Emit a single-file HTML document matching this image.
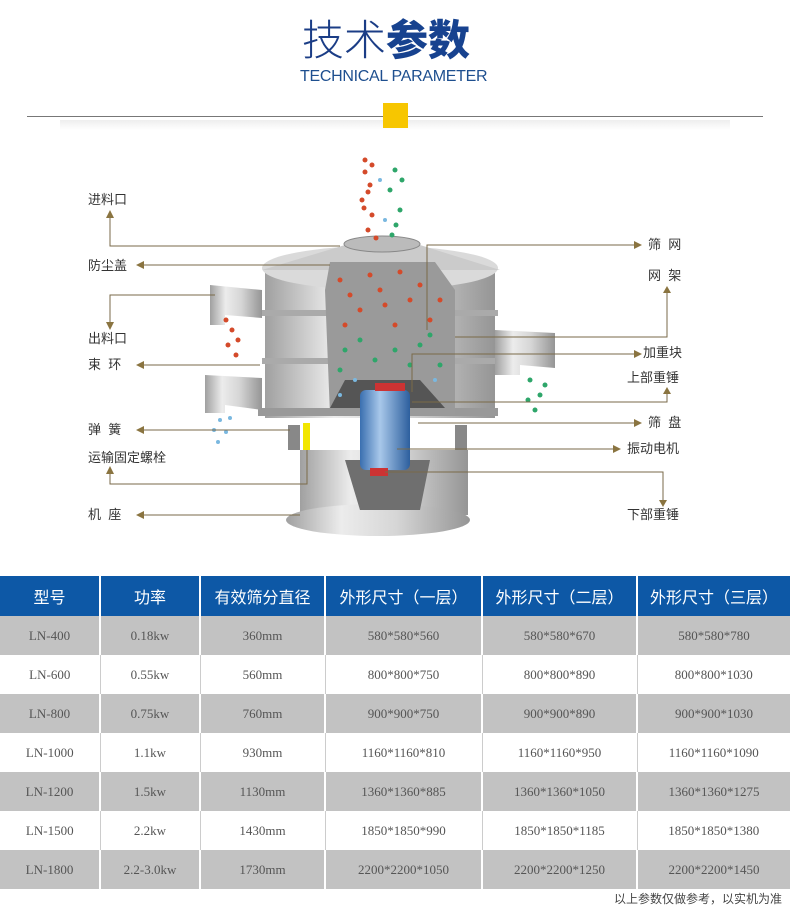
<!DOCTYPE html>
<html><head><meta charset="utf-8"><style>
*{margin:0;padding:0;box-sizing:border-box}
body{width:790px;height:920px;background:#fff;position:relative;overflow:hidden;font-family:"Liberation Sans","Noto Sans CJK SC",sans-serif}
.t{position:absolute;white-space:nowrap}
.lab{position:absolute;font-size:13px;color:#333;font-family:"Liberation Sans","Noto Sans CJK SC",sans-serif;white-space:nowrap;line-height:16px}
table{position:absolute;left:0;top:576px;width:790px;border-collapse:collapse;table-layout:fixed}
td,th{text-align:center;height:39px;font-family:"Liberation Serif","Noto Serif CJK SC",serif;font-size:13px;color:#555;font-weight:normal}
th{background:#0d58a6;color:#fff;font-family:"Liberation Sans","Noto Sans CJK SC",sans-serif;font-size:16px;height:40px;border-left:2px solid #fff}
tr.g td{background:#c2c2c2;border-left:2px solid #fff}
tr.w td{background:#fff;border-left:1px solid #ccc}
th:first-child,td:first-child{border-left:none!important}
</style></head><body>
<div class="t" style="left:302px;top:14px;font-size:42px;color:#1b3d86;font-family:'Liberation Sans','Noto Sans CJK SC',sans-serif;font-weight:300;line-height:54px">技术<b style="font-weight:900;color:#17428f">参数</b></div>
<div class="t" style="left:300px;top:68px;font-size:16px;color:#1e4f8f;letter-spacing:-0.3px">TECHNICAL PARAMETER</div>
<div style="position:absolute;left:27px;top:116px;width:736px;height:1px;background:#777"></div>
<div style="position:absolute;left:60px;top:120px;width:670px;height:10px;background:linear-gradient(#eee,#fff)"></div>
<div style="position:absolute;left:383px;top:103px;width:25px;height:25px;background:#f7c600"></div>

<svg style="position:absolute;left:0;top:0" width="790" height="560">
<defs>
<linearGradient id="m" x1="0" x2="1"><stop offset="0" stop-color="#a0a0a0"/><stop offset=".3" stop-color="#ececec"/><stop offset=".6" stop-color="#d6d6d6"/><stop offset="1" stop-color="#959595"/></linearGradient>
<linearGradient id="b" x1="0" x2="1"><stop offset="0" stop-color="#3a6fb0"/><stop offset=".4" stop-color="#a8c8ea"/><stop offset="1" stop-color="#2d5f9e"/></linearGradient>
</defs>
<path d="M300 450 L468 450 L468 515 L300 515Z" fill="url(#m)"/>
<ellipse cx="378" cy="520" rx="92" ry="16" fill="url(#m)"/>
<path d="M345 460 L430 460 L420 510 L360 510Z" fill="#6f6f6f"/>
<rect x="265" y="268" width="230" height="150" fill="url(#m)"/>
<ellipse cx="380" cy="268" rx="118" ry="22" fill="#dadada"/>
<path d="M262 270 L345 245 L420 245 L500 270Z" fill="#cbcbcb"/>
<ellipse cx="382" cy="244" rx="38" ry="8" fill="#bbb" stroke="#888"/>
<rect x="262" y="310" width="236" height="6" fill="#aaa"/>
<rect x="262" y="358" width="236" height="6" fill="#aaa"/>
<rect x="258" y="408" width="240" height="8" fill="#999"/>
<path d="M330 262 L435 262 L455 290 L455 415 L330 415 L325 290Z" fill="#9a9a9a"/>
<path d="M345 380 L420 380 L445 408 L330 408Z" fill="#555"/>
<rect x="360" y="390" width="50" height="80" rx="6" fill="url(#b)"/>
<rect x="375" y="383" width="30" height="8" fill="#c33"/>
<rect x="370" y="468" width="18" height="8" fill="#c33"/>
<path d="M210 285 L262 290 L262 318 L225 315 L225 325 L210 325Z" fill="url(#m)"/>
<path d="M205 375 L262 378 L262 410 L225 405 L225 413 L205 413Z" fill="url(#m)"/>
<path d="M495 330 L555 333 L555 368 L520 365 L520 375 L495 375Z" fill="url(#m)"/>
<rect x="303" y="423" width="7" height="27" fill="#f2e600"/>
<rect x="288" y="425" width="12" height="25" fill="#888"/>
<rect x="455" y="425" width="12" height="25" fill="#888"/>
<g fill="#d44a2a"><circle cx="365" cy="160" r="2.5"/><circle cx="372" cy="165" r="2.5"/><circle cx="365" cy="172" r="2.5"/><circle cx="370" cy="185" r="2.5"/><circle cx="362" cy="200" r="2.5"/><circle cx="368" cy="192" r="2.5"/><circle cx="372" cy="215" r="2.5"/><circle cx="364" cy="208" r="2.5"/><circle cx="368" cy="230" r="2.5"/><circle cx="376" cy="238" r="2.5"/><circle cx="232" cy="330" r="2.5"/><circle cx="228" cy="345" r="2.5"/><circle cx="236" cy="355" r="2.5"/><circle cx="226" cy="320" r="2.5"/><circle cx="238" cy="340" r="2.5"/><circle cx="340" cy="280" r="2.5"/><circle cx="380" cy="290" r="2.5"/><circle cx="410" cy="300" r="2.5"/><circle cx="360" cy="310" r="2.5"/><circle cx="430" cy="320" r="2.5"/><circle cx="395" cy="325" r="2.5"/><circle cx="350" cy="295" r="2.5"/><circle cx="420" cy="285" r="2.5"/><circle cx="400" cy="272" r="2.5"/><circle cx="370" cy="275" r="2.5"/><circle cx="345" cy="325" r="2.5"/><circle cx="440" cy="300" r="2.5"/><circle cx="385" cy="305" r="2.5"/></g>
<g fill="#2ea66a"><circle cx="395" cy="170" r="2.5"/><circle cx="390" cy="190" r="2.5"/><circle cx="400" cy="210" r="2.5"/><circle cx="392" cy="235" r="2.5"/><circle cx="402" cy="180" r="2.5"/><circle cx="396" cy="225" r="2.5"/><circle cx="530" cy="380" r="2.5"/><circle cx="540" cy="395" r="2.5"/><circle cx="535" cy="410" r="2.5"/><circle cx="545" cy="385" r="2.5"/><circle cx="528" cy="400" r="2.5"/><circle cx="345" cy="350" r="2.5"/><circle cx="375" cy="360" r="2.5"/><circle cx="420" cy="345" r="2.5"/><circle cx="440" cy="365" r="2.5"/><circle cx="360" cy="340" r="2.5"/><circle cx="395" cy="350" r="2.5"/><circle cx="410" cy="365" r="2.5"/><circle cx="340" cy="370" r="2.5"/><circle cx="430" cy="335" r="2.5"/></g>
<g fill="#7ab8e0"><circle cx="220" cy="420" r="2"/><circle cx="226" cy="432" r="2"/><circle cx="218" cy="442" r="2"/><circle cx="230" cy="418" r="2"/><circle cx="214" cy="430" r="2"/><circle cx="380" cy="180" r="2"/><circle cx="385" cy="220" r="2"/><circle cx="355" cy="380" r="2"/><circle cx="435" cy="380" r="2"/><circle cx="340" cy="395" r="2"/></g>
<g stroke="#7a6a48" stroke-width="1" fill="none">
<path d="M110 214 V246 H340"/><path d="M140 265 H330"/><path d="M110 326 V295 H215"/><path d="M140 365 H260"/><path d="M140 430 H290"/><path d="M110 470 V484 H307 V450"/><path d="M140 515 H300"/>
<path d="M427 330 V245 H636"/><path d="M455 337 H667 V290"/><path d="M412 392 V354 H636"/><path d="M412 402 H667 V391"/><path d="M418 423 H636"/><path d="M397 449 H615"/><path d="M385 472 H663 V502"/>
</g>
<g fill="#8a7440">
<path d="M106 218 L110 210 L114 218Z"/><path d="M144 261 L136 265 L144 269Z"/><path d="M106 322 L110 330 L114 322Z"/><path d="M144 361 L136 365 L144 369Z"/><path d="M144 426 L136 430 L144 434Z"/><path d="M106 474 L110 466 L114 474Z"/><path d="M144 511 L136 515 L144 519Z"/>
<path d="M634 241 L642 245 L634 249Z"/><path d="M663 293 L667 286 L671 293Z"/><path d="M634 350 L642 354 L634 358Z"/><path d="M663 394 L667 387 L671 394Z"/><path d="M634 419 L642 423 L634 427Z"/><path d="M613 445 L621 449 L613 453Z"/><path d="M659 500 L663 507 L667 500Z"/>
</g>
</svg>

<div class="lab" style="left:88px;top:192px">进料口</div>
<div class="lab" style="left:88px;top:258px">防尘盖</div>
<div class="lab" style="left:88px;top:331px">出料口</div>
<div class="lab" style="left:88px;top:357px">束&nbsp;&nbsp;环</div>
<div class="lab" style="left:88px;top:422px">弹&nbsp;&nbsp;簧</div>
<div class="lab" style="left:88px;top:450px">运输固定螺栓</div>
<div class="lab" style="left:88px;top:507px">机&nbsp;&nbsp;座</div>
<div class="lab" style="left:648px;top:237px">筛&nbsp;&nbsp;网</div>
<div class="lab" style="left:648px;top:268px">网&nbsp;&nbsp;架</div>
<div class="lab" style="left:643px;top:345px">加重块</div>
<div class="lab" style="left:627px;top:370px">上部重锤</div>
<div class="lab" style="left:648px;top:415px">筛&nbsp;&nbsp;盘</div>
<div class="lab" style="left:627px;top:441px">振动电机</div>
<div class="lab" style="left:627px;top:507px">下部重锤</div>

<table>
<colgroup><col style="width:100px"><col style="width:100px"><col style="width:125px"><col style="width:157px"><col style="width:155px"><col style="width:153px"></colgroup>
<tr><th>型号</th><th>功率</th><th>有效筛分直径</th><th>外形尺寸（一层）</th><th>外形尺寸（二层）</th><th>外形尺寸（三层）</th></tr>
<tr class="g"><td>LN-400</td><td>0.18kw</td><td>360mm</td><td>580*580*560</td><td>580*580*670</td><td>580*580*780</td></tr>
<tr class="w"><td>LN-600</td><td>0.55kw</td><td>560mm</td><td>800*800*750</td><td>800*800*890</td><td>800*800*1030</td></tr>
<tr class="g"><td>LN-800</td><td>0.75kw</td><td>760mm</td><td>900*900*750</td><td>900*900*890</td><td>900*900*1030</td></tr>
<tr class="w"><td>LN-1000</td><td>1.1kw</td><td>930mm</td><td>1160*1160*810</td><td>1160*1160*950</td><td>1160*1160*1090</td></tr>
<tr class="g"><td>LN-1200</td><td>1.5kw</td><td>1130mm</td><td>1360*1360*885</td><td>1360*1360*1050</td><td>1360*1360*1275</td></tr>
<tr class="w"><td>LN-1500</td><td>2.2kw</td><td>1430mm</td><td>1850*1850*990</td><td>1850*1850*1185</td><td>1850*1850*1380</td></tr>
<tr class="g"><td>LN-1800</td><td>2.2-3.0kw</td><td>1730mm</td><td>2200*2200*1050</td><td>2200*2200*1250</td><td>2200*2200*1450</td></tr>
</table>
<div class="t" style="right:8px;top:890px;font-size:12px;color:#444;font-family:'Liberation Sans','Noto Sans CJK SC',sans-serif">以上参数仅做参考，以实机为准</div>
</body></html>
